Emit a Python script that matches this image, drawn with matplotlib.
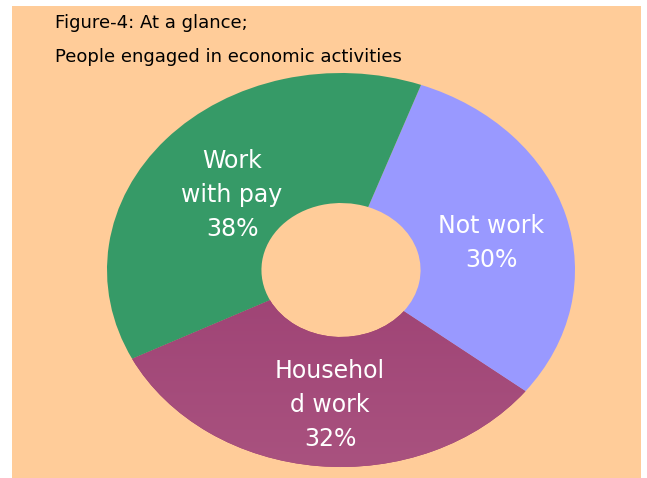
import matplotlib
matplotlib.use("Agg")
import matplotlib.pyplot as plt
import numpy as np
from matplotlib.patches import Rectangle
from matplotlib.colors import LinearSegmentedColormap

labels = ["Not work\n30%", "Househol\nd work\n32%", "Work\nwith pay\n38%"]
values = [30, 32, 38]
colors = ["#9999FF", "#9E3C6E", "#369A67"]
title_lines = ["Figure-4: At a glance;", "People engaged in economic activities"]

W, H = 647, 478
fig = plt.figure(figsize=(W / 100, H / 100), dpi=100, facecolor="white")
fig.patches.append(Rectangle((12 / W, 0), (641 - 12) / W, (478 - 6) / H,
                             transform=fig.transFigure, facecolor="#FFCC99",
                             edgecolor="none", zorder=-10))

ax = fig.add_axes([107 / W, (478 - 467) / H, 468 / W, 394 / H])
ax.set_zorder(1)
ax.set_facecolor("none")
wedges, _ = ax.pie(values, colors=colors, startangle=70, counterclock=False,
                   radius=1.0, wedgeprops=dict(width=0.66, edgecolor="none"))
ax.set_aspect("auto")

# gradient on household work slice (darker at top)
cmap = LinearSegmentedColormap.from_list("hh", ["#A9527F", "#93326A"])
grad = np.linspace(0, 1, 256).reshape(-1, 1)
im = ax.imshow(grad, cmap=cmap, extent=(-1, 1, -1, 1), aspect="auto",
               origin="lower", zorder=wedges[1].get_zorder() + 0.1)
im.set_clip_path(wedges[1])
ax.set_xlim(-1, 1)
ax.set_ylim(-1, 1)
ax.axis("off")

fontfam = ["DejaVu Sans"]
pos = [(491, 243), (330, 405), (232, 195)]
for lab, (px, py) in zip(labels, pos):
    fig.text(px / W, 1 - py / H, lab, ha="center", va="center", color="white",
             fontsize=17, family=fontfam, linespacing=1.55, zorder=5)

fig.text(55 / W, 1 - 23 / H, title_lines[0], ha="left", va="center",
         fontsize=13, family=fontfam, color="black", zorder=5)
fig.text(55 / W, 1 - 57 / H, title_lines[1], ha="left", va="center",
         fontsize=13, family=fontfam, color="black", zorder=5)

fig.savefig("out.png", dpi=100, facecolor=fig.get_facecolor())
